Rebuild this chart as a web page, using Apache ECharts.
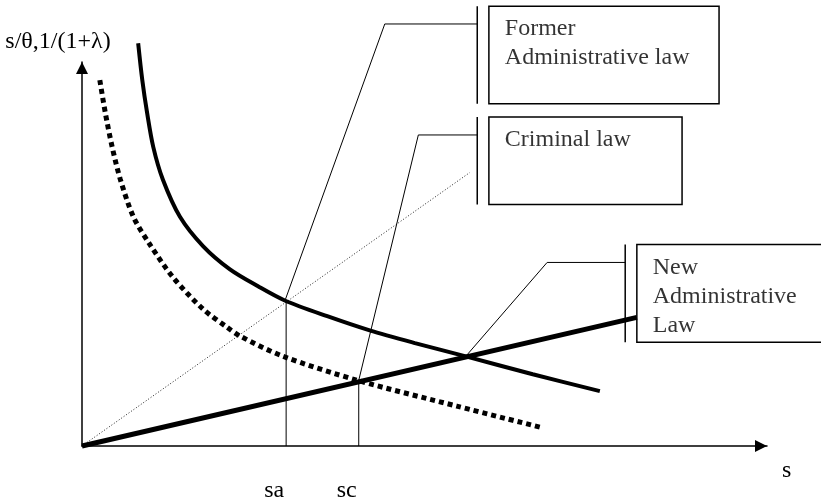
<!DOCTYPE html>
<html>
<head>
<meta charset="utf-8">
<script src="https://cdn.jsdelivr.net/npm/echarts@6/dist/echarts.min.js"></script>
<style>html,body{margin:0;padding:0;background:#fff}#c{width:821px;height:503px}</style>
</head>
<body>
<div id="c"></div>
<script>
// ---- data (schematic units: x 0..100, y 0..100) ----
const yAxisName = 's/\u03b8,1/(1+\u03bb)';
const xAxisName = 's';
const tickValues = [29.8, 40.4];
const tickLabels = ['sa', 'sc'];

// solid hyperbola-like curve
const solidCurve = [[8.2,104.9],[8.8,95.3],[9.5,86.8],[10.4,77.9],[11.8,69.4],[14.3,59.7],[17.7,52.0],[21.6,46.0],[25.7,41.6],[29.6,37.9],[35.8,33.8],[42.0,30.1],[48.6,26.8],[55.9,23.4],[65.8,18.7],[75.6,14.3]];
// dotted thick curve
const dottedCurve = [[2.6,95.3],[3.4,86.8],[4.4,77.9],[5.6,69.4],[7.5,59.7],[9.9,52.5],[13.3,43.9],[17.7,35.6],[21.2,30.9],[23.1,28.6],[29.3,23.4],[40.2,17.1],[54.7,10.4],[67.3,4.7]];
// thick straight line (New Administrative Law)
const thickLine = [[0,0],[81.0,33.5]];
// thin dotted ray
const thinRay = [[0,0],[56.6,71.2]];
// vertical drop lines
const saLine = [[29.8,0],[29.8,37.7]];
const scLine = [[40.4,0],[40.4,17.1]];

// callouts
const boxLabels = ['Former\nAdministrative law', 'Criminal law', 'New\nAdministrative\nLaw'];
const boxRects = [[59.4,114.5,93.0,89.1],[59.4,85.7,87.6,62.9],[81.0,52.5,110.0,27.0]];
const bracketLines = [[[57.7,114.5],[57.7,89.1]],[[57.7,85.7],[57.7,62.9]],[[79.3,52.5],[79.3,27.0]]];
const leaderLines = [[[29.6,37.7],[44.2,109.9],[57.7,109.9]],[[40.4,17.1],[49.1,81.0],[57.7,81.0]],[[55.9,23.1],[67.9,47.8],[79.3,47.8]]];
const textAnchors = [[61.8,112.3],[61.8,83.5],[83.4,50.0]];

const FONT = 'Liberation Serif';
const series = [];
function lineSeries(data, width, type, color, smooth) {
  series.push({
    type: 'line', data: data, symbol: 'none', clip: false, silent: true, smooth: smooth || false,
    lineStyle: { color: color || '#000', width: width, type: type || 'solid', cap: 'butt' },
    animation: false
  });
}
lineSeries(thinRay, 1, [1, 2], '#222');
lineSeries(solidCurve, 4, 'solid', '#000', 0.3);
lineSeries(dottedCurve, 5, [5, 4], '#000', 0.3);
lineSeries(thickLine, 5);
lineSeries(saLine, 1);
lineSeries(scLine, 1);
leaderLines.forEach(l => lineSeries(l, 1));
bracketLines.forEach(l => lineSeries(l, 1.5));

// boxes drawn through the axes' scales (custom series, not clipped)
series.push({
  type: 'custom', clip: false, silent: true, animation: false,
  data: boxRects,
  encode: { x: [0, 2], y: [1, 3] },
  renderItem: function (params, api) {
    const p1 = api.coord([api.value(0), api.value(1)]);
    const p2 = api.coord([api.value(2), api.value(3)]);
    return {
      type: 'rect',
      shape: { x: p1[0], y: p1[1], width: p2[0] - p1[0], height: p2[1] - p1[1] },
      style: { fill: 'none', stroke: '#000', lineWidth: 1.5 }
    };
  }
});

series.push({
  type: 'scatter', clip: false, silent: true, animation: false,
  symbolSize: 1, itemStyle: { color: 'transparent' },
  data: textAnchors.map((p, i) => ({ value: p, name: boxLabels[i] })),
  label: {
    show: true, position: [0, 0], align: 'left', verticalAlign: 'top',
    formatter: p => p.name, fontFamily: FONT, fontSize: 24, lineHeight: 29, color: '#000'
  }
});

const chart = echarts.init(document.getElementById('c'), null, { renderer: 'canvas' });
chart.setOption({
  backgroundColor: '#fff',
  animation: false,
  grid: { left: 82, top: 62, width: 685, height: 385 },
  xAxis: {
    type: 'value', min: 0, max: 100,
    name: xAxisName, nameLocation: 'end', nameGap: 15,
    nameTextStyle: { fontFamily: FONT, fontSize: 24, color: '#000', align: 'left', verticalAlign: 'top', padding: [13, 0, 0, 0] },
    axisLine: { show: true, onZero: false, lineStyle: { color: '#000', width: 1.5 }, symbol: ['none', 'triangle'], symbolSize: [12, 12], symbolOffset: [0, -6] },
    axisTick: { show: false },
    splitLine: { show: false },
    axisLabel: {
      show: true, customValues: tickValues, margin: 33,
      formatter: v => { const i = tickValues.indexOf(v); return i >= 0 ? tickLabels[i] : ''; },
      fontFamily: FONT, fontSize: 24, color: '#000', align: 'right', padding: [0, 2, 0, 0]
    }
  },
  yAxis: {
    type: 'value', min: 0, max: 100,
    name: yAxisName, nameLocation: 'end', nameGap: 8,
    nameTextStyle: { fontFamily: FONT, fontSize: 24, color: '#000', align: 'center', padding: [0, 48, 0, 0] },
    axisLine: { show: true, onZero: false, lineStyle: { color: '#000', width: 1.5 }, symbol: ['none', 'triangle'], symbolSize: [12, 12], symbolOffset: [0, -6] },
    axisTick: { show: false },
    splitLine: { show: false },
    axisLabel: { show: false }
  },
  series: series
});
</script>
</body>
</html>
